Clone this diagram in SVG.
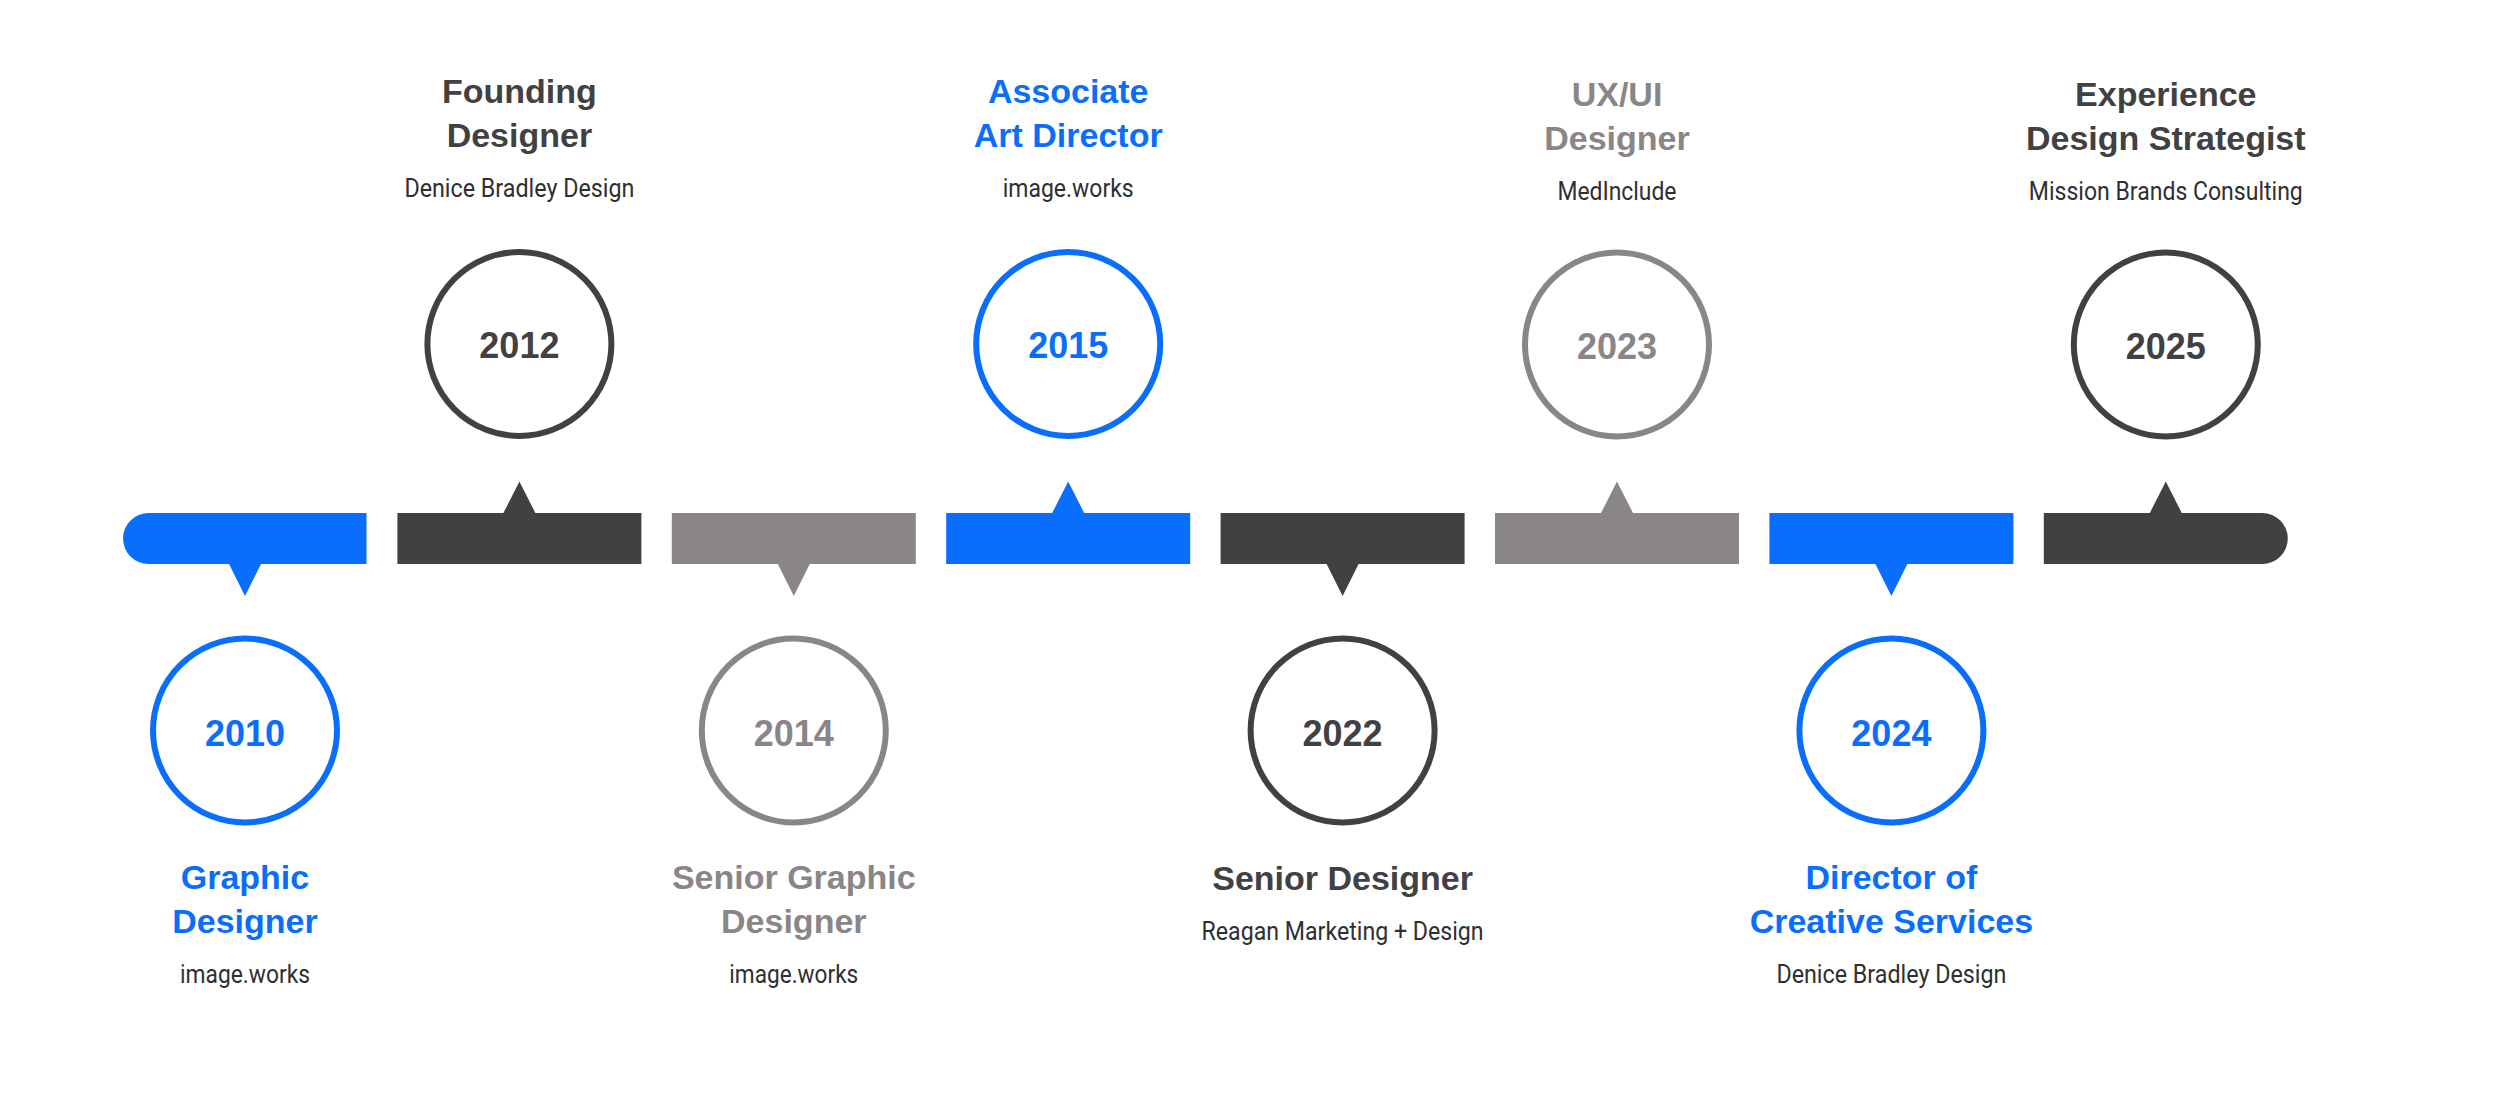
<svg xmlns="http://www.w3.org/2000/svg" width="2500" height="1094" viewBox="0 0 2500 1094">
<style>
.bg{fill:#ffffff}
.blue{fill:#0a6efd}
.dark{fill:#414143}
.gray{fill:#8a8687}
.ring{fill:#ffffff;stroke-width:6}
.ring.blue{stroke:#0a6efd}
.ring.dark{stroke:#414143}
.ring.gray{stroke:#8a8687}
.year{font-family:"Liberation Sans",Arial,sans-serif;font-weight:700;font-size:36px;text-anchor:middle}
.title{font-family:"Liberation Sans",Arial,sans-serif;font-weight:700;font-size:34px;text-anchor:middle}
.sub{font-family:Roboto,"Liberation Sans",sans-serif;font-weight:400;font-size:26px;text-anchor:middle;fill:#2f2f31}
.tb{fill:#0a6efd}
.td{fill:#414143}
.tg{fill:#8a8687}
</style>
<rect class="bg" x="0" y="0" width="2500" height="1094"/>
<g id="connectors">
  <path class="blue" d="M148.5 513 H366.5 V564 H261 L245 596 L229 564 H148.5 A25.5 25.5 0 0 1 148.5 513 Z"/>
  <path class="dark" d="M397.4 513 H503.4 L519.4 481.5 L535.4 513 H641.4 V564 H397.4 Z"/>
  <path class="gray" d="M671.8 513 H915.8 V564 H809.8 L793.8 596 L777.8 564 H671.8 Z"/>
  <path class="blue" d="M946.2 513 H1052.2 L1068.2 481.5 L1084.2 513 H1190.2 V564 H946.2 Z"/>
  <path class="dark" d="M1220.6 513 H1464.6 V564 H1358.6 L1342.6 596 L1326.6 564 H1220.6 Z"/>
  <path class="gray" d="M1495 513 H1601 L1617 481.5 L1633 513 H1739 V564 H1495 Z"/>
  <path class="blue" d="M1769.4 513 H2013.4 V564 H1907.4 L1891.4 596 L1875.4 564 H1769.4 Z"/>
  <path class="dark" d="M2043.8 513 H2149.8 L2165.8 481.5 L2181.8 513 H2262.3 A25.5 25.5 0 0 1 2262.3 564 H2043.8 Z"/>
</g>
<g id="node-2010">
  <circle class="ring blue" cx="245" cy="730.5" r="92"/>
  <text class="year tb" x="245" y="745.5">2010</text>
  <text class="title tb" x="245" y="889">Graphic</text>
  <text class="title tb" x="245" y="933">Designer</text>
  <text class="sub" x="245" y="983" textLength="130" lengthAdjust="spacingAndGlyphs">image.works</text>
</g>
<g id="node-2012">
  <circle class="ring dark" cx="519.4" cy="344" r="92"/>
  <text class="year td" x="519.4" y="358">2012</text>
  <text class="title td" x="519.4" y="103">Founding</text>
  <text class="title td" x="519.4" y="147">Designer</text>
  <text class="sub" x="519.4" y="197" textLength="230" lengthAdjust="spacingAndGlyphs">Denice Bradley Design</text>
</g>
<g id="node-2014">
  <circle class="ring gray" cx="793.8" cy="730.5" r="92"/>
  <text class="year tg" x="793.8" y="745.5">2014</text>
  <text class="title tg" x="793.8" y="889">Senior Graphic</text>
  <text class="title tg" x="793.8" y="933">Designer</text>
  <text class="sub" x="793.8" y="983" textLength="129" lengthAdjust="spacingAndGlyphs">image.works</text>
</g>
<g id="node-2015">
  <circle class="ring blue" cx="1068.2" cy="344" r="92"/>
  <text class="year tb" x="1068.2" y="358">2015</text>
  <text class="title tb" x="1068.2" y="103">Associate</text>
  <text class="title tb" x="1068.2" y="147">Art Director</text>
  <text class="sub" x="1068.2" y="197" textLength="131" lengthAdjust="spacingAndGlyphs">image.works</text>
</g>
<g id="node-2022">
  <circle class="ring dark" cx="1342.6" cy="730.5" r="92"/>
  <text class="year td" x="1342.6" y="745.5">2022</text>
  <text class="title td" x="1342.6" y="890">Senior Designer</text>
  <text class="sub" x="1342.6" y="940" textLength="282" lengthAdjust="spacingAndGlyphs">Reagan Marketing + Design</text>
</g>
<g id="node-2023">
  <circle class="ring gray" cx="1617" cy="344.5" r="92"/>
  <text class="year tg" x="1617" y="358.5">2023</text>
  <text class="title tg" x="1617" y="106">UX/UI</text>
  <text class="title tg" x="1617" y="150">Designer</text>
  <text class="sub" x="1617" y="199.5" textLength="119" lengthAdjust="spacingAndGlyphs">MedInclude</text>
</g>
<g id="node-2024">
  <circle class="ring blue" cx="1891.4" cy="730.5" r="92"/>
  <text class="year tb" x="1891.4" y="745.5">2024</text>
  <text class="title tb" x="1891.4" y="889">Director of</text>
  <text class="title tb" x="1891.4" y="933">Creative Services</text>
  <text class="sub" x="1891.4" y="983" textLength="230" lengthAdjust="spacingAndGlyphs">Denice Bradley Design</text>
</g>
<g id="node-2025">
  <circle class="ring dark" cx="2165.8" cy="344.5" r="92"/>
  <text class="year td" x="2165.8" y="358.5">2025</text>
  <text class="title td" x="2165.8" y="106">Experience</text>
  <text class="title td" x="2165.8" y="150">Design Strategist</text>
  <text class="sub" x="2165.8" y="200" textLength="274" lengthAdjust="spacingAndGlyphs">Mission Brands Consulting</text>
</g>
</svg>
